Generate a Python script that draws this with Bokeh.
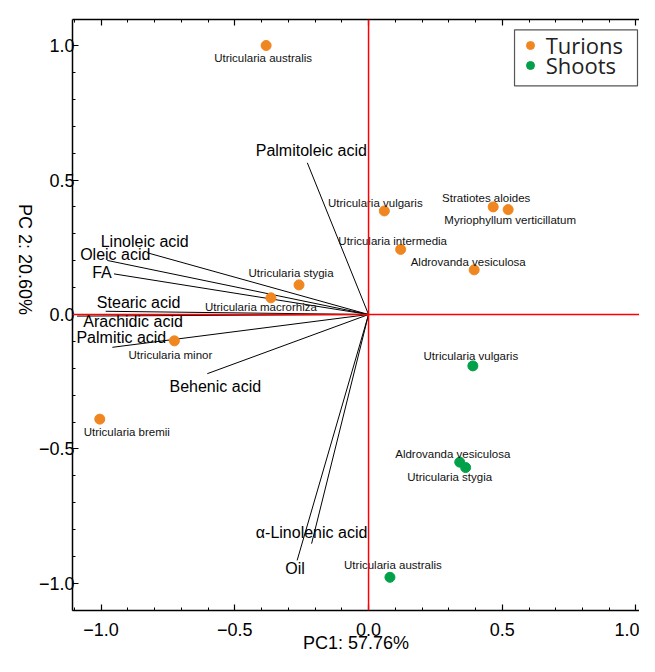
import numpy as np
from bokeh.plotting import figure
from bokeh.models import (Range1d, FixedTicker, LinearAxis, Span, Legend, BoxAnnotation,
                          LegendItem, ColumnDataSource)
from bokeh.core.properties import value
from bokeh.embed import file_html
from bokeh.resources import INLINE

# ---------------- data ----------------
turion_names = ["Utricularia australis", "Utricularia stygia", "Utricularia macrorhiza",
                "Utricularia minor", "Utricularia bremii", "Utricularia vulgaris",
                "Utricularia intermedia", "Stratiotes aloides",
                "Myriophyllum verticillatum", "Aldrovanda vesiculosa"]
turion_pc1 = [-0.383, -0.260, -0.365, -0.726, -1.005, 0.059, 0.120, 0.466, 0.522, 0.395]
turion_pc2 = [1.000, 0.110, 0.062, -0.098, -0.389, 0.385, 0.242, 0.400, 0.390, 0.166]

shoot_names = ["Utricularia vulgaris", "Aldrovanda vesiculosa", "Utricularia stygia",
               "Utricularia australis"]
shoot_pc1 = [0.390, 0.341, 0.363, 0.080]
shoot_pc2 = [-0.191, -0.549, -0.569, -0.977]

loading_names = ["Palmitoleic acid", "Linoleic acid", "Oleic acid", "FA", "Stearic acid",
                 "Arachidic acid", "Palmitic acid", "Behenic acid", "α-Linolenic acid", "Oil"]
loading_pc1 = [-0.229, -0.822, -0.977, -0.952, -0.983, -1.090, -0.958, -0.603, -0.213, -0.267]
loading_pc2 = [0.564, 0.228, 0.201, 0.151, 0.012, -0.006, -0.122, -0.220, -0.852, -0.914]

major_ticks = [-1.0, -0.5, 0.0, 0.5, 1.0]
tick_labels = {-1.0: "\u22121.0", -0.5: "\u22120.5", 0.0: "0.0", 0.5: "0.5", 1.0: "1.0"}

# ---------------- label offsets (pixels, +down) ----------------
turion_dx = [-3, -8, -10, -4, 27, -9, -8, -7, 2, -6]
turion_dy = [12, -12, 9, 14, 13, -8, -8, -9, 10, -8]
shoot_dx = [-2, -7, -16, 3]
shoot_dy = [-10, -8, 9, -12]
loading_dx = [4, -4, 8, -12, 33, 56, 9, 8, 0, -2]
loading_dy = [-12, -12, -6, -1, -9, 5, -10, 13, -11, 8]

ORANGE = "#F0861F"
GREEN = "#03A04A"
FONT = "Liberation Sans"

p = figure(width=639, height=656, output_backend="svg", toolbar_location=None,
           x_range=Range1d(-1.107, 1.0131), y_range=Range1d(-1.1004, 1.0967),
           min_border_left=72, min_border_right=0, min_border_top=19, min_border_bottom=46)
p.outline_line_color = None
p.xgrid.visible = False
p.ygrid.visible = False
p.background_fill_color = "white"

minor = [round(v, 1) for v in np.arange(-1.1, 1.11, 0.1)]

def style_axis(ax, show_labels=True):
    ax.ticker = FixedTicker(ticks=major_ticks, minor_ticks=minor)
    ax.major_tick_in = 6
    ax.major_tick_out = 0
    ax.minor_tick_in = 3
    ax.minor_tick_out = 0
    ax.axis_line_width = 1.5
    ax.major_tick_line_width = 1.2
    ax.minor_tick_line_width = 1
    ax.axis_line_color = "black"
    ax.major_tick_line_color = "black"
    ax.minor_tick_line_color = "black"
    if show_labels:
        ax.major_label_overrides = tick_labels
        ax.major_label_text_font = FONT
        ax.major_label_text_font_size = "18px"
        ax.major_label_text_color = "black"
        ax.axis_label_text_font = FONT
        ax.axis_label_text_font_size = "18px"
        ax.axis_label_text_font_style = "normal"
        ax.axis_label_text_color = "black"
    else:
        ax.major_label_overrides = {t: "" for t in major_ticks}
        ax.major_label_text_font_size = "1px"
        ax.major_label_standoff = 0

xa = p.xaxis[0]
ya = p.yaxis[0]
style_axis(xa)
style_axis(ya)
xa.major_label_standoff = 12
xa.axis_label = "PC1: 57.76%"
xa.axis_label_standoff = -6
ya.major_label_standoff = -2
ya.axis_label = "PC 2: 20.60%"
ya.axis_label_standoff = 11
try:
    ya.axis_label_orientation = -np.pi / 2
except Exception:
    pass
top_axis = LinearAxis()
style_axis(top_axis, show_labels=False)
p.add_layout(top_axis, "above")

# reference lines
p.add_layout(Span(location=0, dimension="width", line_color="#FF0000", line_width=1.5))
p.add_layout(Span(location=0, dimension="height", line_color="#FF0000", line_width=1.5))

# loading vectors
lsrc = ColumnDataSource(dict(x1=loading_pc1, y1=loading_pc2, name=loading_names,
                             dx=loading_dx, dy=loading_dy))
p.segment(x0=0, y0=0, x1="x1", y1="y1", source=lsrc, line_color="black", line_width=1)
p.text(x="x1", y="y1", text="name", source=lsrc, x_offset="dx", y_offset="dy",
       text_font=value(FONT), text_font_size="16px", text_color="black",
       text_align="center", text_baseline="middle")

# points
tsrc = ColumnDataSource(dict(x=turion_pc1, y=turion_pc2, name=turion_names,
                             dx=turion_dx, dy=turion_dy))
ssrc = ColumnDataSource(dict(x=shoot_pc1, y=shoot_pc2, name=shoot_names,
                             dx=shoot_dx, dy=shoot_dy))
r_t = p.scatter("x", "y", source=tsrc, size=10, fill_color=ORANGE, line_color=ORANGE)
r_s = p.scatter("x", "y", source=ssrc, size=10, fill_color=GREEN, line_color=GREEN)
for src in (tsrc, ssrc):
    p.text(x="x", y="y", text="name", source=src, x_offset="dx", y_offset="dy",
           text_font=value(FONT), text_font_size="11.5px", text_color="#111111",
           text_align="center", text_baseline="middle")

# legend: frame box + two single-row legends (tight row spacing)
p.add_layout(BoxAnnotation(left=0.5458, right=1.0056, top=1.0584, bottom=0.8503,
                           fill_color="white", fill_alpha=1.0, line_color="#555555",
                           line_width=1.2, line_alpha=1.0))
leg_kw = dict(label_text_font="Open Sans", label_text_font_size="22px",
              label_text_color="#222222", glyph_width=20, glyph_height=30, label_height=30,
              label_standoff=6, padding=0, spacing=0, margin=0,
              border_line_color=None, background_fill_alpha=0.0)
p.add_layout(Legend(items=[LegendItem(label="Turions", renderers=[r_t])],
                    location=(447.7, 550.3), **leg_kw))
p.add_layout(Legend(items=[LegendItem(label="Shoots", renderers=[r_s])],
                    location=(447.7, 529.7), **leg_kw))

open("out.html", "w").write(file_html(p, INLINE))
